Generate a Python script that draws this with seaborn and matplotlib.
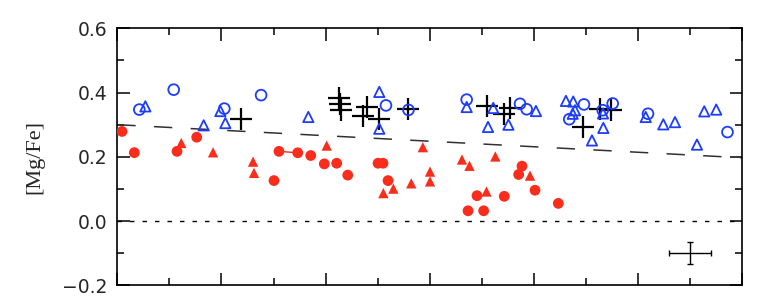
import numpy as np
import pandas as pd
import matplotlib
matplotlib.use("Agg")
import matplotlib.pyplot as plt
from matplotlib.ticker import MultipleLocator, NullFormatter
import seaborn as sns

# ---- data ----
red_circle_x = [0.045, 0.163, 0.573, 0.762, 1.504, 1.552, 1.732, 1.857, 1.987, 2.106, 2.212,
                2.503, 2.551, 2.599, 3.367, 3.453, 3.517, 3.715, 3.853, 3.885, 4.010, 4.234]
red_circle_y = [0.279, 0.213, 0.217, 0.261, 0.126, 0.217, 0.2125, 0.204, 0.178, 0.180, 0.143,
                0.180, 0.180, 0.126, 0.032, 0.079, 0.032, 0.077, 0.145, 0.171, 0.096, 0.055]
red_link_x = [1.552, 1.732]
red_link_y = [0.217, 0.2125]

red_tri_x = [0.614, 0.919, 1.303, 1.312, 2.010, 2.554, 2.650, 2.822, 2.933, 3.002, 3.002,
             3.309, 3.381, 3.544, 3.629, 3.962]
red_tri_y = [0.243, 0.214, 0.185, 0.150, 0.235, 0.087, 0.101, 0.1175, 0.230, 0.154, 0.1235,
             0.1915, 0.172, 0.092, 0.201, 0.1415]

blue_circle_x = [0.211, 0.541, 1.027, 1.380, 2.579, 2.795, 3.354, 3.866, 3.930, 4.339, 4.480,
                 4.660, 4.756, 5.095, 5.858]
blue_circle_y = [0.347, 0.409, 0.350, 0.392, 0.360, 0.346, 0.378, 0.365, 0.348, 0.317, 0.363,
                 0.345, 0.366, 0.334, 0.277]

blue_tri_x = [0.269, 0.829, 0.989, 1.037, 1.834, 2.515, 2.515, 3.354, 3.559, 3.609, 3.755,
              4.019, 4.307, 4.377, 4.394, 4.372, 4.557, 4.663, 4.666, 5.073, 5.242, 5.354,
              5.565, 5.635, 5.750]
blue_tri_y = [0.357, 0.298, 0.3425, 0.305, 0.324, 0.402, 0.2875, 0.355, 0.293, 0.352, 0.300,
              0.3425, 0.374, 0.372, 0.345, 0.334, 0.251, 0.335, 0.290, 0.324, 0.301, 0.308,
              0.238, 0.3415, 0.347]

plus_x = [1.188, 2.128, 2.138, 2.152, 2.362, 2.394, 2.515, 2.794, 3.546, 3.770, 3.717,
          4.471, 4.634, 4.739]
plus_y = [0.317, 0.382, 0.363, 0.345, 0.326, 0.354, 0.319, 0.350, 0.358, 0.352, 0.332,
          0.2925, 0.348, 0.345]

trend_x = [0.0, 6.0]
trend_y = [0.300, 0.197]

err_x, err_y = [5.5], [-0.10]
err_dx, err_dy = [0.20], [0.034]

y_ticks = [-0.2, 0.0, 0.2, 0.4, 0.6]
y_label = "[Mg/Fe]"

RED = "#fa2c1c"
BLUE = "#1c3cff"

# ---- figure ----
sns.set_style("ticks")
plt.rcParams["font.family"] = ["DejaVu Sans"]

fig = plt.figure(figsize=(7.74, 3.06), dpi=100)
ax = fig.add_axes([0.1516, 0.0676, 0.8074, 0.8399])

ax.axhline(0.0, color="black", lw=1.0, dashes=(3.2, 5.8), zorder=1)
sns.lineplot(x=trend_x, y=trend_y, ax=ax, color="#303030", lw=1.1,
             dashes=False, zorder=1).lines[-1].set_dashes((12, 12))

sns.lineplot(x=red_link_x, y=red_link_y, ax=ax, color=RED, lw=1.0, zorder=2)

sns.scatterplot(x=red_circle_x, y=red_circle_y, ax=ax, marker="o", s=60,
                color=RED, edgecolor="none", zorder=3)
sns.scatterplot(x=red_tri_x, y=red_tri_y, ax=ax, marker="^", s=55,
                color=RED, edgecolor="none", zorder=3)
sns.scatterplot(x=plus_x, y=plus_y, ax=ax, marker="+", s=230,
                color="black", linewidth=1.6, zorder=4)
sns.scatterplot(x=blue_tri_x, y=blue_tri_y, ax=ax, marker="^", s=55,
                facecolor="none", edgecolor=BLUE, linewidth=1.3, zorder=5)
sns.scatterplot(x=blue_circle_x, y=blue_circle_y, ax=ax, marker="o", s=60,
                facecolor="none", edgecolor=BLUE, linewidth=1.3, zorder=5)

ax.errorbar(err_x, err_y, xerr=err_dx, yerr=err_dy, fmt="none", ecolor="black",
            elinewidth=1.0, capsize=2.5, capthick=1.0)

ax.set_xlim(0, 6)
ax.set_ylim(-0.2, 0.6)
ax.xaxis.set_major_locator(MultipleLocator(1.0))
ax.xaxis.set_minor_locator(MultipleLocator(0.5))
ax.xaxis.set_major_formatter(NullFormatter())
ax.set_yticks(y_ticks)
ax.set_yticklabels([f"{v:.1f}".replace("-", "\u2212") for v in y_ticks])
ax.yaxis.set_minor_locator(MultipleLocator(0.1))

ax.tick_params(which="both", direction="in", top=True, right=True, bottom=True, left=True,
               color="black", width=1.1)
ax.tick_params(which="major", length=9, labelsize=13.5, pad=7)
ax.tick_params(which="minor", length=4.8)
for s in ax.spines.values():
    s.set_linewidth(1.2)
    s.set_color("black")

ax.set_ylabel(y_label, family="Liberation Serif", fontsize=16, labelpad=13)
ax.set_xlabel("")

fig.savefig("out.png", dpi=100)
